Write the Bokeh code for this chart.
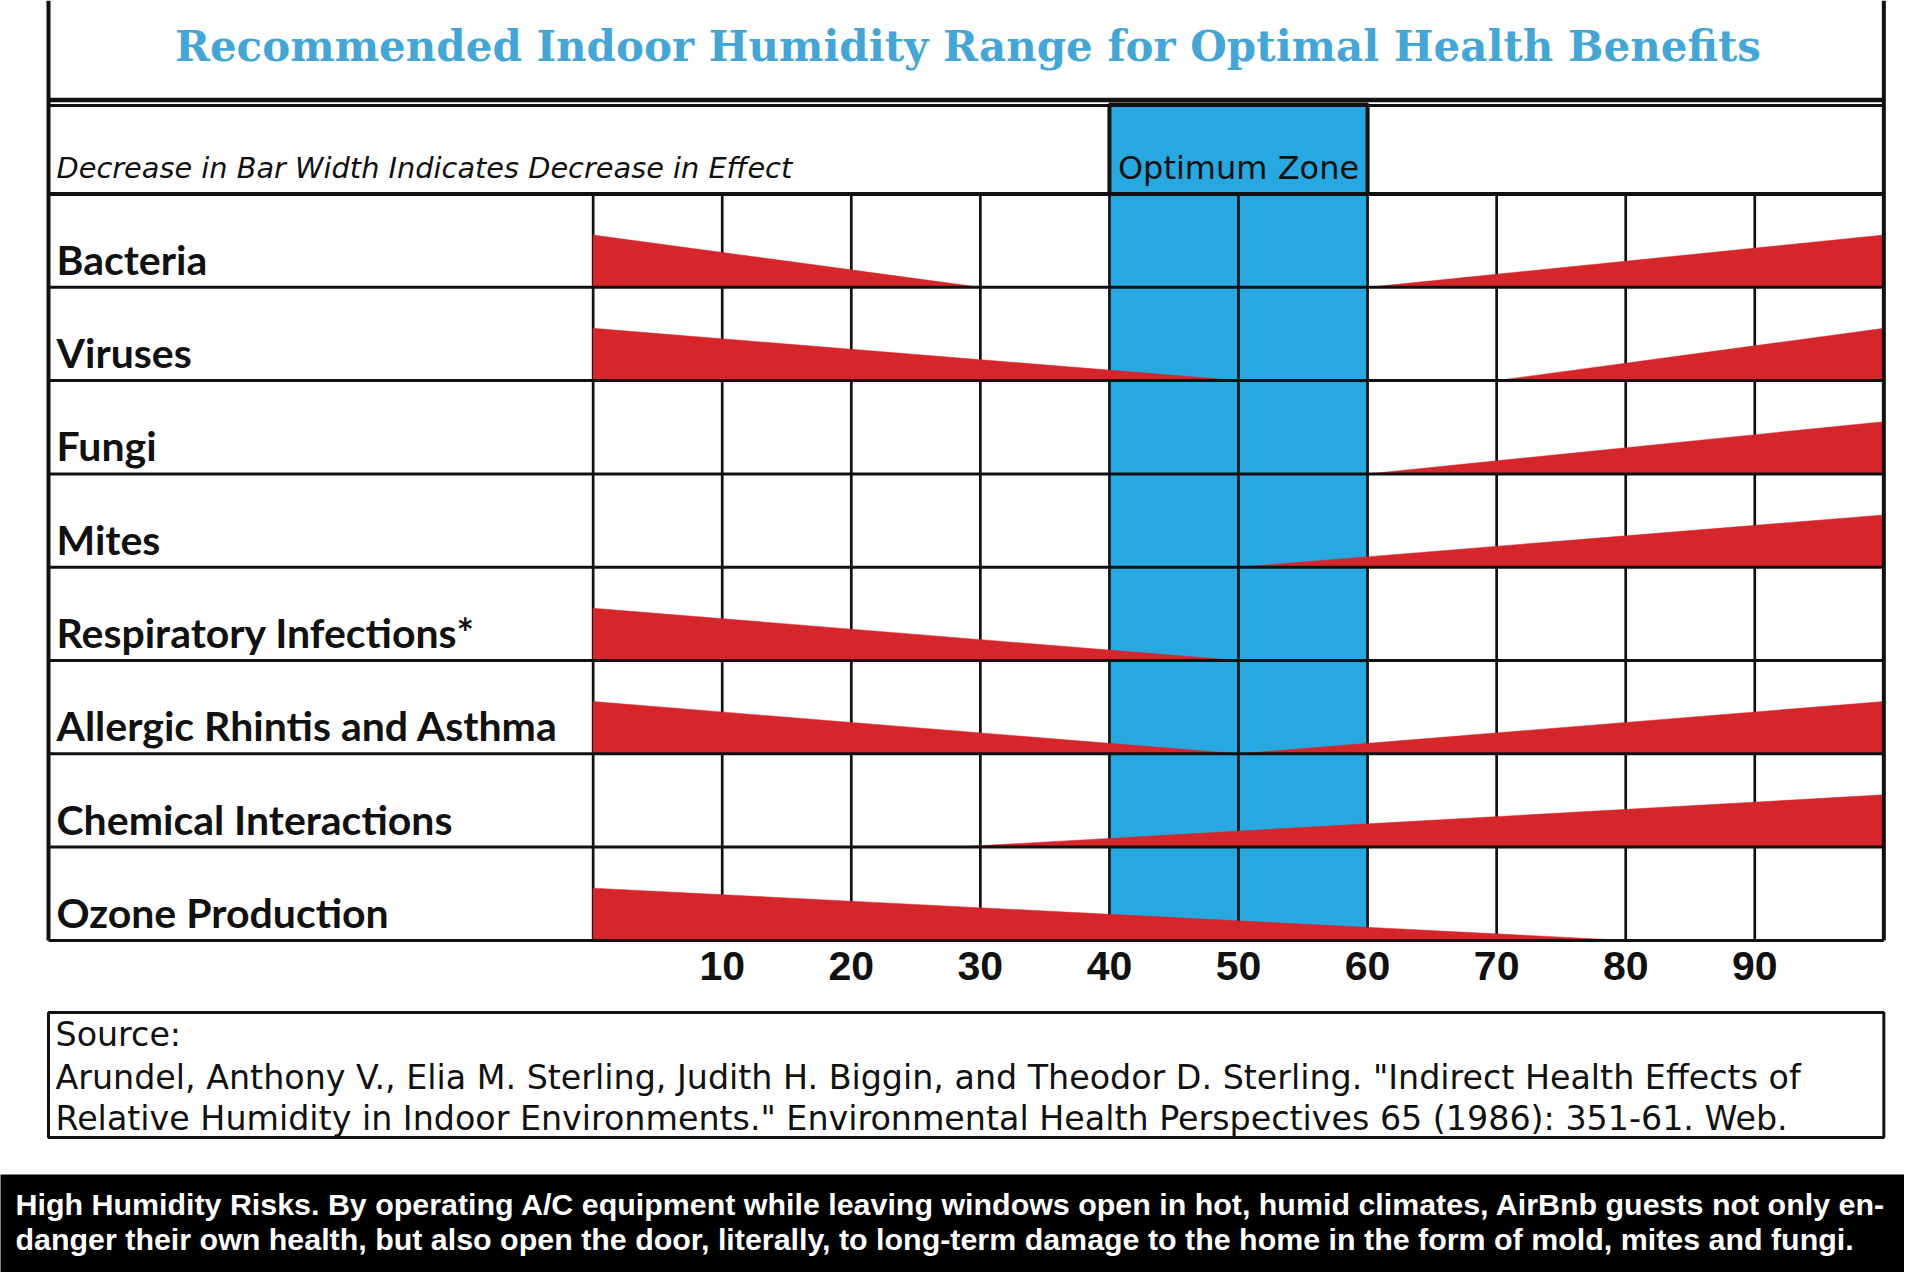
from bokeh.plotting import figure
from bokeh.models import Range1d
from bokeh.core.properties import value
from bokeh.embed import file_html
from bokeh.resources import INLINE

# ---------------- data ----------------
title_text = "Recommended Indoor Humidity Range for Optimal Health Benefits"
subtitle_text = "Decrease in Bar Width Indicates Decrease in Effect"
zone_label = "Optimum Zone"
categories = ["Bacteria", "Viruses", "Fungi", "Mites", "Respiratory Infections*",
              "Allergic Rhintis and Asthma", "Chemical Interactions", "Ozone Production"]
# low-humidity wedge: full effect at 0 % RH, tapering to nothing at this RH (None = no wedge)
low_end = [30, 50, None, None, 50, 50, None, 80]
# high-humidity wedge: nothing at this RH, growing to full effect at 100 % RH (None = no wedge)
high_start = [60, 70, 60, 50, None, 50, 28, None]
optimum_zone = [40, 60]
grid_values = [0, 10, 20, 30, 40, 50, 60, 70, 80, 90, 100]
tick_values = [10, 20, 30, 40, 50, 60, 70, 80, 90]
tick_labels = ["10", "20", "30", "40", "50", "60", "70", "80", "90"]
source_lines = ["Source:",
                "Arundel, Anthony V., Elia M. Sterling, Judith H. Biggin, and Theodor D. Sterling. \"Indirect Health Effects of",
                "Relative Humidity in Indoor Environments.\" Environmental Health Perspectives 65 (1986): 351-61. Web."]
caption_lines = ["High Humidity Risks. By operating A/C equipment while leaving windows open in hot, humid climates, AirBnb guests not only en-",
                 "danger their own health, but also open the door, literally, to long-term damage to the home in the form of mold, mites and fungi."]

# ---------------- layout helpers (canvas pixels -> data units) ----------------
W, H = 1904, 1272
PX0, PXU = 592.65, 12.907   # x pixel of 0 % RH, px per % RH
PY0, PYU = 193.5, 93.3      # y pixel of top of first row, px per row


def hx(px):
    return (px - PX0) / PXU


def ry(py):
    return (py - PY0) / PYU


RED = "#d5262c"
BLUE = "#27a8e0"
TITLE_BLUE = "#45a6d6"
INK = "#111111"
WEDGE_H = 0.56
LEFT = hx(48)
RIGHT = grid_values[-1]
N = len(categories)

p = figure(width=W, height=H,
           x_range=Range1d(hx(0), hx(W)),
           y_range=Range1d(ry(H), ry(0)),
           x_axis_type=None, y_axis_type=None,
           toolbar_location=None, tools="", min_border=0,
           output_backend="svg")
p.background_fill_color = "white"
p.border_fill_color = "white"
p.outline_line_color = None

# optimum zone band and header box
p.quad(left=optimum_zone[0], right=optimum_zone[1], top=0, bottom=N,
       fill_color=BLUE, line_color=None)
p.quad(left=optimum_zone[0], right=optimum_zone[1], top=ry(104), bottom=0,
       fill_color=BLUE, line_color=INK, line_width=4)

# vertical grid lines
p.segment(x0=grid_values[:-1], y0=[0] * (len(grid_values) - 1),
          x1=grid_values[:-1], y1=[N] * (len(grid_values) - 1),
          line_color=INK, line_width=2.7)

# red wedges
xs, ys = [], []
for i in range(N):
    base = i + 1
    top = base - WEDGE_H
    if low_end[i] is not None:
        xs.append([grid_values[0], grid_values[0], low_end[i]])
        ys.append([base, top, base])
    if high_start[i] is not None:
        xs.append([high_start[i], grid_values[-1], grid_values[-1]])
        ys.append([base, top, base])
p.patches(xs=xs, ys=ys, fill_color=RED, line_color=RED, line_width=0.5)

# horizontal row lines
rows = list(range(1, N + 1))
p.segment(x0=[LEFT] * N, y0=rows, x1=[RIGHT] * N, y1=rows,
          line_color=INK, line_width=3)
p.segment(x0=[LEFT], y0=[0], x1=[RIGHT], y1=[0], line_color=INK, line_width=4)
# title box bottom + header top
p.segment(x0=[LEFT, LEFT], y0=[ry(99.5), ry(105)], x1=[RIGHT, RIGHT], y1=[ry(99.5), ry(105)],
          line_color=INK, line_width=[4.5, 3])
# outer borders
p.segment(x0=[LEFT, RIGHT], y0=[ry(0), ry(0)], x1=[LEFT, RIGHT], y1=[N, N],
          line_color=INK, line_width=4)

# texts (y = visual middle of the text line)
p.text(x=[hx(967.5)], y=[ry(45.5)], text=[title_text], text_font=value("DejaVu Serif"),
       text_font_style="bold", text_font_size="42px", text_color=TITLE_BLUE,
       text_align="center", text_baseline="middle")
p.text(x=[hx(56)], y=[ry(167.5)], text=[subtitle_text], text_font=value("DejaVu Sans"),
       text_font_style="italic", text_font_size="28.8px", text_color=INK,
       text_align="left", text_baseline="middle")
p.text(x=[sum(optimum_zone) / 2], y=[ry(167.5)], text=[zone_label], text_font=value("DejaVu Sans"),
       text_font_size="32px", text_color=INK, text_align="center", text_baseline="middle")
p.text(x=[hx(56)] * N, y=[i + 1 - 28.0 / PYU for i in range(N)], text=categories,
       text_font=value("Lato"), text_font_style="bold", text_font_size="41px",
       text_color=INK, text_align="left", text_baseline="middle")
p.text(x=tick_values, y=[ry(965)] * len(tick_values), text=tick_labels,
       text_font=value("Liberation Sans"), text_font_style="bold", text_font_size="41px",
       text_color=INK, text_align="center", text_baseline="middle")

# source box
p.quad(left=LEFT, right=RIGHT, top=ry(1012), bottom=ry(1137),
       fill_color=None, line_color=INK, line_width=3)
p.text(x=[hx(55)] * 3, y=[ry(1034), ry(1077), ry(1117.5)], text=source_lines,
       text_font=value("DejaVu Sans"), text_font_size="33.3px", text_color=INK,
       text_align="left", text_baseline="middle")

# caption band
p.quad(left=hx(-10), right=hx(W + 10), top=ry(1174), bottom=ry(H + 10),
       fill_color="black", line_color=None)
p.text(x=[hx(15)] * 2, y=[ry(1203), ry(1238)], text=caption_lines,
       text_font=value("Liberation Sans"), text_font_style="bold", text_font_size="30.4px",
       text_color="white", text_align="left", text_baseline="middle")

open("out.html", "w").write(file_html(p, INLINE))
